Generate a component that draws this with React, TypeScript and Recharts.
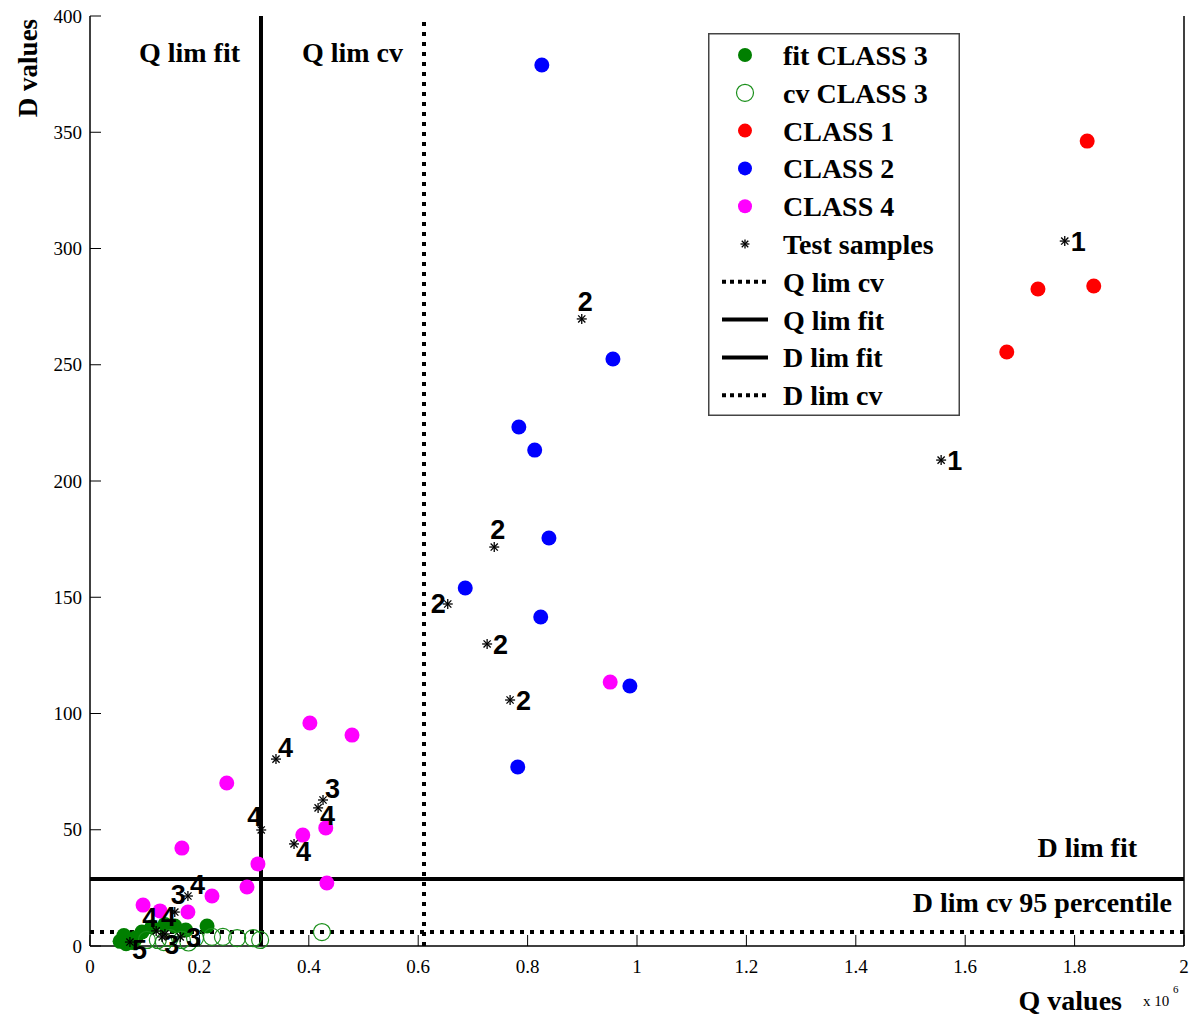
import React from 'react';
import { ScatterChart, Scatter, XAxis, YAxis, ReferenceLine, Legend } from 'recharts';

// Q values are in units of 1e6
const xTicks = [0, 0.2, 0.4, 0.6, 0.8, 1, 1.2, 1.4, 1.6, 1.8, 2];
const yTicks = [0, 50, 100, 150, 200, 250, 300, 350, 400];

const fitClass3Q = [0.055, 0.062, 0.077, 0.095, 0.113, 0.137, 0.155, 0.175, 0.214, 0.066, 0.084];
const fitClass3D = [2.0, 4.5, 1.5, 6.0, 8.2, 9.3, 8.6, 6.9, 8.6, 1.0, 3.5];

const cvClass3Q = [0.104, 0.124, 0.146, 0.168, 0.192, 0.223, 0.243, 0.269, 0.298, 0.311, 0.424, 0.135, 0.18];
const cvClass3D = [2.6, 2.6, 3.4, 2.6, 3.4, 3.9, 3.9, 3.4, 3.4, 2.6, 6.0, 1.7, 1.5];

const class1Q = [1.823, 1.733, 1.835, 1.676];
const class1D = [346.2, 282.6, 283.9, 255.5];

const class2Q = [0.826, 0.956, 0.784, 0.813, 0.839, 0.686, 0.824, 0.987, 0.782];
const class2D = [378.9, 252.5, 223.2, 213.3, 175.5, 154.0, 141.5, 111.8, 77.0];

const class4Q = [0.951, 0.402, 0.479, 0.25, 0.389, 0.431, 0.168, 0.307, 0.287, 0.433, 0.223, 0.097, 0.128, 0.179];
const class4D = [113.5, 95.9, 90.7, 70.1, 47.7, 50.8, 42.1, 35.3, 25.4, 27.1, 21.5, 17.6, 15.1, 14.6];

const testQ = [1.782, 1.556, 0.899, 0.739, 0.654, 0.726, 0.768, 0.34, 0.426, 0.417, 0.313, 0.373, 0.179, 0.155, 0.073, 0.121, 0.137, 0.132, 0.165];
const testD = [303.2, 209.0, 269.7, 171.6, 147.1, 129.9, 105.8, 80.4, 62.8, 59.4, 49.9, 43.9, 21.5, 14.6, 1.7, 6.5, 5.2, 3.9, 3.9];
const testClass = ['1', '1', '2', '2', '2', '2', '2', '4', '3', '4', '4', '4', '4', '3', '5', '4', '4', '3', '3'];
// where the class number sits next to its asterisk
const testSide = ['r', 'r', 'a', 'a', 'l', 'r', 'r', 'ar', 'ar', 'br', 'al', 'br', 'ar', 'a', 'br', 'al', 'a', 'br', 'r'];

const qLimFit = 0.3126;
const qLimCv = 0.6106;
const dLimFit = 28.8;
const dLimCv = 6.0;

const legendNames = ['fit CLASS 3', 'cv CLASS 3', 'CLASS 1', 'CLASS 2', 'CLASS 4', 'Test samples', 'Q lim cv', 'Q lim fit', 'D lim fit', 'D lim cv'];
const legendKinds = ['fill:#007f00', 'open:#1a8f1a', 'fill:#ff0000', 'fill:#0000ff', 'fill:#ff00ff', 'star', 'dot', 'solid', 'solid', 'dot'];

const zip = (q: number[], d: number[]) => q.map((v, i) => ({ q: v, d: d[i] }));

const SERIF = '"Liberation Serif", "Times New Roman", serif';
const SANS = '"Liberation Sans", Arial, sans-serif';
const TICK = 11;

function Asterisk({ cx, cy, r = 5 }: { cx: number; cy: number; r?: number }) {
  const k = r * 0.72;
  return (
    <g stroke="#000" strokeWidth={1.3}>
      <line x1={cx - r} y1={cy} x2={cx + r} y2={cy} />
      <line x1={cx} y1={cy - r} x2={cx} y2={cy + r} />
      <line x1={cx - k} y1={cy - k} x2={cx + k} y2={cy + k} />
      <line x1={cx - k} y1={cy + k} x2={cx + k} y2={cy - k} />
    </g>
  );
}

const dot = (color: string) => (p: any) => <circle cx={p.cx} cy={p.cy} r={7.5} fill={color} />;
const ring = (color: string) => (p: any) => (
  <circle cx={p.cx} cy={p.cy} r={8.5} fill="none" stroke={color} strokeWidth={1.2} />
);

function TestShape(p: any) {
  const e = p.payload ?? p;
  const { cx, cy } = p;
  let tx = cx + 6;
  let ty = cy + 10;
  let anchor: 'start' | 'end' = 'start';
  if (e.side === 'a') { tx = cx - 4; ty = cy - 8; }
  if (e.side === 'l') { tx = cx - 2; ty = cy + 9; anchor = 'end'; }
  if (e.side === 'ar') { tx = cx + 2; ty = cy - 2; }
  if (e.side === 'al') { tx = cx + 1; ty = cy - 4; anchor = 'end'; }
  if (e.side === 'br') { tx = cx + 2; ty = cy + 17; }
  return (
    <g>
      <Asterisk cx={cx} cy={cy} />
      <text x={tx} y={ty} textAnchor={anchor} fontFamily={SANS} fontWeight="bold" fontSize={27} fill="#000">
        {e.label}
      </text>
    </g>
  );
}

function BottomTick({ x, y, payload }: any) {
  return (
    <g>
      <line x1={x} x2={x} y1={y} y2={y - TICK} stroke="#000" />
      <text x={x} y={y + 27} textAnchor="middle" fontFamily={SERIF} fontSize={19} fill="#000">
        {payload.value}
      </text>
    </g>
  );
}

const TopTick = ({ x, y }: any) => <line x1={x} x2={x} y1={y} y2={y + TICK} stroke="#000" />;

function LeftTick({ x, y, payload }: any) {
  return (
    <g>
      <line x1={x} x2={x + TICK} y1={y} y2={y} stroke="#000" />
      <text x={x - 8} y={y} dy="0.35em" textAnchor="end" fontFamily={SERIF} fontSize={19} fill="#000">
        {payload.value}
      </text>
    </g>
  );
}

const RightTick = ({ x, y }: any) => <line x1={x} x2={x - TICK} y1={y} y2={y} stroke="#000" />;

const boldText = (x: number, y: number, text: string, anchor: 'start' | 'end' | 'middle' = 'end') => (
  <text x={x} y={y} textAnchor={anchor} fontFamily={SERIF} fontWeight="bold" fontSize={28} fill="#000">
    {text}
  </text>
);

function LegendBox() {
  const w = 252;
  const h = 383;
  return (
    <svg width={w} height={h} style={{ display: 'block' }}>
      <rect x={0.75} y={0.75} width={w - 1.5} height={h - 1.5} fill="#fff" stroke="#444" strokeWidth={1.5} />
      {legendNames.map((name, i) => {
        const cy = 22 + i * 37.8;
        const kind = legendKinds[i];
        let marker: React.ReactNode = null;
        if (kind.startsWith('fill:')) marker = <circle cx={37} cy={cy} r={7} fill={kind.slice(5)} />;
        else if (kind.startsWith('open:'))
          marker = <circle cx={37} cy={cy} r={8.5} fill="none" stroke={kind.slice(5)} strokeWidth={1.2} />;
        else if (kind === 'star') marker = <Asterisk cx={37} cy={cy} r={4.5} />;
        else if (kind === 'solid') marker = <line x1={14} x2={60} y1={cy} y2={cy} stroke="#000" strokeWidth={4} />;
        else marker = <line x1={14} x2={60} y1={cy} y2={cy} stroke="#000" strokeWidth={4} strokeDasharray="4 4" />;
        return (
          <g key={name}>
            {marker}
            <text x={75} y={cy + 10} fontFamily={SERIF} fontWeight="bold" fontSize={28} fill="#000">
              {name}
            </text>
          </g>
        );
      })}
    </svg>
  );
}

export default function App() {
  const testData = testQ.map((q, i) => ({ q, d: testD[i], label: testClass[i], side: testSide[i] }));
  const axisLine = { stroke: '#000', strokeWidth: 1.5 };

  return (
    <div style={{ position: 'absolute', left: 0, top: 0, background: '#fff' }}>
      <ScatterChart width={1189} height={1018} margin={{ top: 16, right: 0, bottom: 0, left: 0 }}>
        <XAxis
          type="number"
          dataKey="q"
          domain={[0, 2]}
          ticks={xTicks}
          interval={0}
          height={72}
          tickSize={0}
          tickMargin={0}
          tick={<BottomTick />}
          axisLine={axisLine}
          label={() => (
            <g>
              {boldText(1122, 1010, 'Q values')}
              <text x={1143} y={1006} fontFamily={SERIF} fontSize={15} fill="#000">x 10</text>
              <text x={1173} y={993} fontFamily={SERIF} fontSize={11} fill="#000">6</text>
            </g>
          )}
        />
        <XAxis
          xAxisId="top"
          orientation="top"
          type="number"
          dataKey="q"
          domain={[0, 2]}
          ticks={xTicks}
          interval={0}
          height={0}
          tickSize={0}
          tickMargin={0}
          tick={<TopTick />}
          axisLine={axisLine}
        />
        <YAxis
          type="number"
          dataKey="d"
          domain={[0, 400]}
          ticks={yTicks}
          interval={0}
          width={90}
          tickSize={0}
          tickMargin={0}
          tick={<LeftTick />}
          axisLine={axisLine}
          label={() => (
            <text
              x={28}
              y={68}
              transform="rotate(-90 28 68)"
              textAnchor="middle"
              dominantBaseline="central"
              fontFamily={SERIF}
              fontWeight="bold"
              fontSize={27}
              fill="#000"
            >
              D values
            </text>
          )}
        />
        <YAxis
          yAxisId="right"
          orientation="right"
          type="number"
          dataKey="d"
          domain={[0, 400]}
          ticks={yTicks}
          interval={0}
          width={5}
          tickSize={0}
          tickMargin={0}
          tick={<RightTick />}
          axisLine={axisLine}
        />

        <Scatter name="fit CLASS 3" data={zip(fitClass3Q, fitClass3D)} shape={dot('#007f00')} isAnimationActive={false} />
        <Scatter name="cv CLASS 3" data={zip(cvClass3Q, cvClass3D)} shape={ring('#1a8f1a')} isAnimationActive={false} />
        <Scatter name="CLASS 1" data={zip(class1Q, class1D)} shape={dot('#ff0000')} isAnimationActive={false} />
        <Scatter name="CLASS 2" data={zip(class2Q, class2D)} shape={dot('#0000ff')} isAnimationActive={false} />
        <Scatter name="CLASS 4" data={zip(class4Q, class4D)} shape={dot('#ff00ff')} isAnimationActive={false} />

        <ReferenceLine
          x={qLimFit}
          stroke="#000"
          strokeWidth={4}
          label={(p: any) => boldText(p.viewBox.x - 21, p.viewBox.y + 46, 'Q lim fit')}
        />
        <ReferenceLine
          x={qLimCv}
          stroke="#000"
          strokeWidth={4}
          strokeDasharray="4 6"
          label={(p: any) => boldText(p.viewBox.x - 21, p.viewBox.y + 46, 'Q lim cv')}
        />
        <ReferenceLine
          y={dLimFit}
          stroke="#000"
          strokeWidth={4}
          label={(p: any) => boldText(p.viewBox.x + p.viewBox.width - 47, p.viewBox.y - 22, 'D lim fit')}
        />
        <ReferenceLine
          y={dLimCv}
          stroke="#000"
          strokeWidth={4}
          strokeDasharray="4 6"
          label={(p: any) => boldText(p.viewBox.x + p.viewBox.width - 12, p.viewBox.y - 20, 'D lim cv 95 percentile')}
        />

        <Scatter name="Test samples" data={testData} shape={TestShape} isAnimationActive={false} />

        <Legend
          layout="vertical"
          align="center"
          verticalAlign="middle"
          content={() => <LegendBox />}
          wrapperStyle={{ left: 708, top: 33, width: 252, height: 383 }}
        />
      </ScatterChart>
    </div>
  );
}
